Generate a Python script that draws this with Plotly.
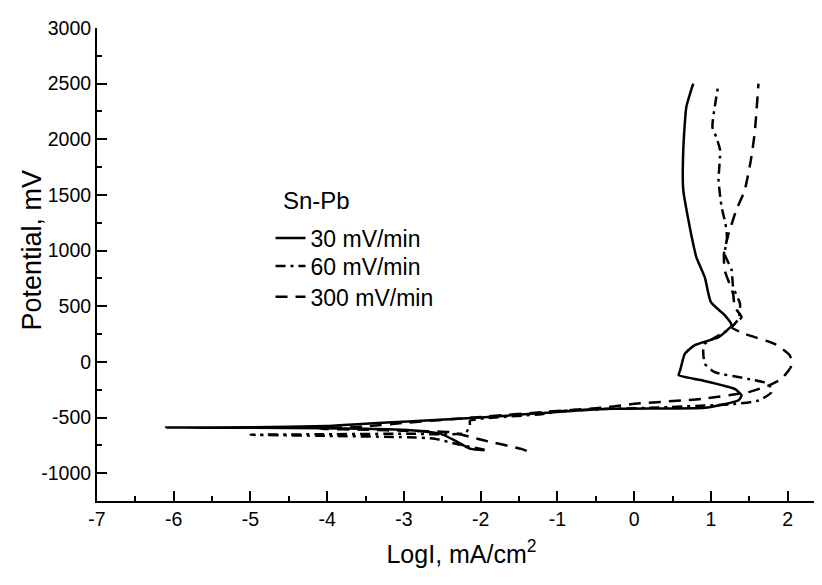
import plotly.graph_objects as go

# 30 mV/min (solid)
x30 = [-1.95, -2.13, -2.3, -2.52, -2.95, -3.5, -4.5, -5.5, -6.1,
       -5.0, -4.0, -3.5, -2.95, -2.0, -1.21, -0.34, 0.4, 0.92,
       1.36, 1.40, 1.31, 0.88, 0.58, 0.60, 0.66, 0.79, 1.10, 1.27,
       1.18, 1.00, 0.92, 0.81, 0.75, 0.70, 0.64, 0.64, 0.68, 0.77]
y30 = [-794, -782, -720, -647, -611, -600, -593, -591, -590,
       -588, -575, -555, -536, -500, -460, -422, -418, -413,
       -345, -300, -243, -165, -120, -75, 72, 150, 222, 330,
       420, 537, 761, 941, 1121, 1300, 1544, 1903, 2290, 2500]

# 60 mV/min (dash-dot)
x60 = [-1.95, -2.3, -2.6, -2.95, -4.0, -5.0,
       -4.0, -3.0, -2.2, -2.14, -2.14, -1.21, -0.86, 0.44, 1.31, 1.62,
       1.79, 1.75, 1.49, 1.05, 0.92, 0.90, 0.92, 1.14, 1.27, 1.36,
       1.38, 1.29, 1.27, 1.18, 1.21, 1.19, 1.14, 1.10, 1.12, 1.07,
       1.02, 1.10]
y60 = [-790, -740, -690, -677, -665, -655,
       -650, -645, -640, -570, -530, -470, -437, -407, -378, -347,
       -272, -198, -153, -93, -18, 105, 162, 252, 312, 387,
       521, 672, 824, 971, 1110, 1241, 1390, 1633, 1903, 2020,
       2110, 2500]

# 300 mV/min (dashed)
x300 = [-1.40, -1.47, -1.95, -2.39, -2.95, -3.5, -4.1,
        -3.5, -2.95, -2.0, -1.21, -0.34, 0.01, 0.88, 1.49, 1.75,
        1.92, 2.05, 2.03, 1.83, 1.44, 1.27, 1.40, 1.31, 1.29, 1.18,
        1.17, 1.23, 1.33, 1.44, 1.52, 1.57, 1.62]
y300 = [-800, -782, -707, -632, -620, -610, -600,
        -580, -545, -495, -452, -407, -377, -332, -272, -213,
        -153, -33, 57, 162, 252, 312, 402, 492, 611, 824,
        971, 1151, 1361, 1541, 1810, 2050, 2500]

series_names = ["30 mV/min", "60 mV/min", "300 mV/min"]
legend_title = "Sn-Pb"

x_ticks = [-7, -6, -5, -4, -3, -2, -1, 0, 1, 2]
y_ticks = [-1000, -500, 0, 500, 1000, 1500, 2000, 2500, 3000]

font_family = "Liberation Sans, Arial, sans-serif"

fig = go.Figure()
fig.add_trace(go.Scatter(x=x30, y=y30, mode="lines", name=series_names[0], legend="legend",
                         line=dict(color="black", width=2.5, dash="solid", shape="spline", smoothing=0.5)))
fig.add_trace(go.Scatter(x=x60, y=y60, mode="lines", name=series_names[1], legend="legend2",
                         line=dict(color="black", width=2.5, dash="10px,5px,3px,5px", shape="spline", smoothing=0.5)))
fig.add_trace(go.Scatter(x=x300, y=y300, mode="lines", name=series_names[2], legend="legend3",
                         line=dict(color="black", width=2.5, dash="12px,8px", shape="spline", smoothing=0.5)))

leg_common = dict(x=0.238, xanchor="left", yanchor="middle", bgcolor="rgba(0,0,0,0)",
                  font=dict(size=23, family=font_family, color="black"), itemwidth=30)

fig.update_layout(
    width=822, height=585,
    margin=dict(l=89, r=4, t=20, b=92),
    paper_bgcolor="white", plot_bgcolor="white",
    font=dict(family=font_family, color="black", size=19.5),
    showlegend=True,
    legend=dict(y=0.556, **leg_common),
    legend2=dict(y=0.4966, **leg_common),
    legend3=dict(y=0.4318, **leg_common),
    annotations=[
        dict(text=legend_title, xref="paper", yref="paper", x=0.252, y=0.6345,
             xanchor="left", yanchor="middle", showarrow=False,
             font=dict(size=24, family=font_family, color="black")),
        dict(text="Potential, mV", xref="paper", yref="paper", x=-0.0889, y=0.53,
             xanchor="center", yanchor="middle", textangle=-90, showarrow=False,
             font=dict(size=27, family=font_family, color="black")),
    ],
    xaxis=dict(
        range=[-7, 2.5], tickvals=x_ticks, ticktext=[str(v) for v in x_ticks],
        showgrid=False, zeroline=False, showline=True, linecolor="black", linewidth=2,
        ticks="inside", ticklen=10, tickwidth=2, tickcolor="black",
        minor=dict(ticks="inside", ticklen=5, tickwidth=2, tickcolor="black", dtick=0.5, tick0=0, showgrid=False),
        tickfont=dict(size=19.5),
        title=dict(text="LogI, mA/cm<sup>2</sup>", font=dict(size=25), standoff=16),
    ),
    yaxis=dict(
        range=[-1250, 3000], tickvals=y_ticks, ticktext=[str(v) for v in y_ticks],
        showgrid=False, zeroline=False, showline=True, linecolor="black", linewidth=2,
        ticks="inside", ticklen=10, tickwidth=2, tickcolor="black",
        minor=dict(ticks="inside", ticklen=5, tickwidth=2, tickcolor="black", dtick=250, tick0=0, showgrid=False),
        tickfont=dict(size=19.5),
    ),
)

fig.write_html("out.html")
